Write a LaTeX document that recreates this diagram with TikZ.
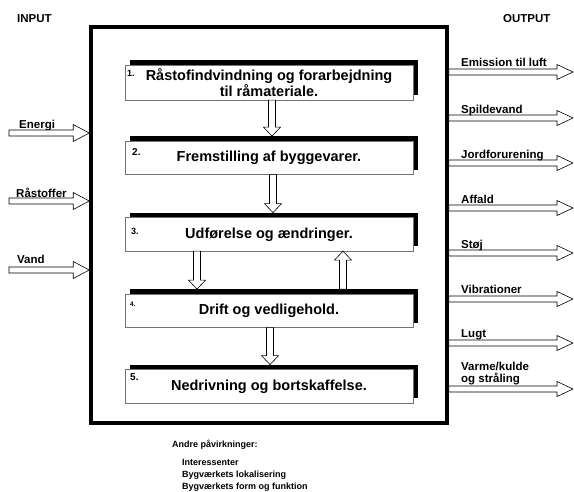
\documentclass[tikz,border=0pt]{standalone}
\usepackage{fontspec}
\setmainfont{Liberation Sans}
\usetikzlibrary{calc,positioning,shadows}

\begin{document}
\begin{tikzpicture}[x=1pt,y=-1pt]

    \tikzstyle{stage}=[draw=black!55,line width=0.6pt,fill=white,outer sep=0pt,minimum width=288pt,minimum height=33.5pt,align=center,font=\bfseries\fontsize{14.5}{15}\selectfont,general shadow={fill=black,shadow xshift=5pt,shadow yshift=5pt}]
    \tikzstyle{num}=[anchor=base west,inner sep=0pt,font=\bfseries\fontsize{9}{9}\selectfont]
    \tikzstyle{lab}=[anchor=base west,inner sep=0pt,align=left,font=\bfseries\fontsize{11.5}{12}\selectfont]
    \tikzstyle{other}=[anchor=base west,inner sep=0pt,font=\bfseries\fontsize{9}{12}\selectfont]
    \tikzset{hollow/.style n args={3}{draw,fill=white,line width=0.6pt,line join=miter,to path={let \p1=(\tikztostart),\p2=(\tikztotarget),\n1={atan2(\y2-\y1,\x2-\x1)} in ($(\p1)+(\n1+90:#1)$) -- ($(\p2)+(\n1+180:#3)+(\n1+90:#1)$) -- ($(\p2)+(\n1+180:#3)+(\n1+90:#2)$) -- (\p2) -- ($(\p2)+(\n1+180:#3)+(\n1-90:#2)$) -- ($(\p2)+(\n1+180:#3)+(\n1-90:#1)$) -- ($(\p1)+(\n1-90:#1)$) -- cycle}}}
    \tikzset{inner/.style={hollow={3.5pt}{8.5pt}{9pt}},inarrow/.style={hollow={3pt}{8.5pt}{16pt}},outarrow/.style={hollow={3pt}{7.5pt}{16pt}}}

    \useasboundingbox (0,0) rectangle (574,491);

\node (Frame) [draw,line width=3.5pt,minimum width=356pt,minimum height=396pt] at (269,225) {};

\node (Stage_1) [stage] at (269,82.75) {R\aa stofindvindning og forarbejdning\\til r\aa materiale.};
\node (Stage_2) [stage,below=41pt of Stage_1] {Fremstilling af byggevarer.};
\node (Stage_3) [stage,below=43pt of Stage_2] {Udførelse og ændringer.};
\node (Stage_4) [stage,below=43pt of Stage_3] {Drift og vedligehold.};
\node (Stage_5) [stage,below=42pt of Stage_4] {Nedrivning og bortskaffelse.};

\node (N_1) [num] at ([xshift=2pt,yshift=-11pt]Stage_1.north west) {1.};
\node (N_2) [num,font=\bfseries\fontsize{10}{10}\selectfont] at ([xshift=7pt,yshift=-14pt]Stage_2.north west) {2.};
\node (N_3) [num] at ([xshift=6pt,yshift=-17pt]Stage_3.north west) {3.};
\node (N_4) [num,font=\bfseries\fontsize{6.5}{6.5}\selectfont] at ([xshift=5pt,yshift=-12.5pt]Stage_4.north west) {4.};
\node (N_5) [num,font=\bfseries\fontsize{10}{10}\selectfont] at ([xshift=5pt,yshift=-11pt]Stage_5.north west) {5.};

\draw[inner] ([xshift=3pt]Stage_1.south) to ([xshift=3pt,yshift=5pt]Stage_2.north);
\draw[inner] ([xshift=4pt]Stage_2.south) to ([xshift=4pt,yshift=5pt]Stage_3.north);
\draw[inner] ([xshift=-72pt]Stage_3.south) to ([xshift=-72pt,yshift=5pt]Stage_4.north);
\draw[inner] ([xshift=74pt,yshift=5pt]Stage_4.north) to ([xshift=74pt]Stage_3.south);
\draw[inner] ([xshift=1pt]Stage_4.south) to ([xshift=1pt,yshift=5pt]Stage_5.north);

\node (Input) [lab] at (17,22) {INPUT};
\node (Output) [lab] at (503,22) {OUTPUT};

\coordinate (In_1) at (9,133);
\coordinate (In_2) at (9,201);
\coordinate (In_3) at (9,270);
\node (L_Energi) [lab] at (19,128) {Energi};
\node (L_Raastoffer) [lab] at (16,197) {R\aa stoffer};
\node (L_Vand) [lab] at (17,263) {Vand};
\draw[inarrow] (In_1) to (Frame.west |- In_1);
\draw[inarrow] (In_2) to (Frame.west |- In_2);
\draw[inarrow] (In_3) to (Frame.west |- In_3);

\coordinate (Out_1) at (573,72);
\coordinate (Out_2) at (573,118);
\coordinate (Out_3) at (573,163);
\coordinate (Out_4) at (573,208);
\coordinate (Out_5) at (573,253);
\coordinate (Out_6) at (573,299);
\coordinate (Out_7) at (573,343);
\coordinate (Out_8) at (573,389);
\draw[outarrow] (Frame.east |- Out_1) to (Out_1);
\draw[outarrow] (Frame.east |- Out_2) to (Out_2);
\draw[outarrow] (Frame.east |- Out_3) to (Out_3);
\draw[outarrow] (Frame.east |- Out_4) to (Out_4);
\draw[outarrow] (Frame.east |- Out_5) to (Out_5);
\draw[outarrow] (Frame.east |- Out_6) to (Out_6);
\draw[outarrow] (Frame.east |- Out_7) to (Out_7);
\draw[outarrow] (Frame.east |- Out_8) to (Out_8);
\node (L_Emission) [lab] at (461,66) {Emission til luft};
\node (L_Spildevand) [lab] at (461,113) {Spildevand};
\node (L_Jord) [lab] at (461,158) {Jordforurening};
\node (L_Affald) [lab] at (461,203) {Affald};
\node (L_Stoej) [lab] at (461,248) {Støj};
\node (L_Vibrationer) [lab] at (461,293) {Vibrationer};
\node (L_Lugt) [lab] at (461,337) {Lugt};
\node (L_Varme) [lab,anchor=south west] at (461,385.5) {Varme/kulde\\og str\aa ling};

\node (Andre) [other] at (172,447) {Andre p\aa virkninger:};
\node (Other_1) [other] at (182,465) {Interessenter};
\node (Other_2) [other] at (182,477) {Bygværkets lokalisering};
\node (Other_3) [other] at (182,489) {Bygværkets form og funktion};

\end{tikzpicture}
\end{document}
